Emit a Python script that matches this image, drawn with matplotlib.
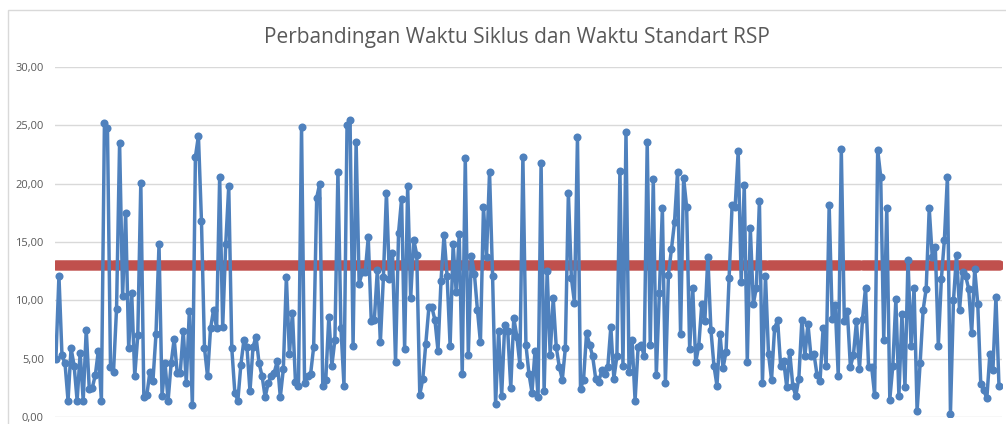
import matplotlib
matplotlib.use("Agg")
import matplotlib.pyplot as plt
from matplotlib.patches import Rectangle
from matplotlib.ticker import FuncFormatter

title = "Perbandingan Waktu Siklus dan Waktu Standart RSP"

waktu_siklus = [
    # segment 1
    5.0, 12.1, 5.3, 4.6, 1.4, 5.9, 4.4, 1.4, 5.5, 1.4, 7.5, 2.4, 2.5, 3.6, 5.7, 1.4,
    25.2, 24.8, 4.3, 3.9, 9.3, 23.5, 10.4, 17.5, 5.9, 10.6, 3.5, 7.0, 20.1, 1.7, 1.9,
    3.9, 3.1, 7.1, 14.8,
    # segment 2
    1.8, 4.6, 1.4, 4.6, 6.7, 3.8, 3.8, 7.4, 2.9, 9.1, 1.0, 22.3, 24.1, 16.8, 5.9, 3.5,
    7.6, 9.2, 7.6, 20.6, 7.7, 14.8, 19.8, 5.9, 2.1, 1.4, 4.5, 6.6, 6.0, 2.2,
    # segment 3
    6.0, 6.9, 4.6, 3.5, 1.7, 2.9, 3.5, 3.8, 4.8, 1.7, 4.1, 12.0, 5.4, 8.9, 3.0, 2.7,
    24.9, 2.9, 3.5, 3.7, 6.0, 18.8, 20.0, 2.7, 3.2, 8.6, 4.4, 6.6, 21.0, 7.6, 2.7,
    25.0, 25.5,
    # segment 4
    6.1, 23.6, 11.4, 12.4, 12.4, 15.4, 8.2, 8.3, 12.6, 6.4, 12.0, 19.2, 11.8, 14.1,
    4.7, 15.8, 18.7, 5.8, 19.8, 10.2, 15.2, 13.9, 1.9, 3.3, 6.3, 9.4, 9.4, 8.3, 5.7,
    11.7, 15.6, 12.1, 6.1,
    # segment 5
    14.8, 10.7, 15.7, 3.7, 22.2, 5.3, 13.8, 12.3, 9.2, 6.4, 18.0, 13.7, 21.0, 12.1,
    1.1, 7.4, 1.8, 7.9, 7.4, 2.5, 8.5, 6.9, 4.5, 22.3, 6.2, 3.7, 2.1, 5.7, 1.7, 21.8,
    2.2, 12.5, 5.3,
    # segment 6
    10.2, 6.0, 4.3, 3.2, 5.9, 19.2, 11.9, 9.8, 24.0, 2.4, 3.2, 7.2, 6.2, 5.2, 3.3,
    3.0, 4.0, 3.7, 4.3, 7.7, 3.3, 5.2, 21.1, 4.4, 24.4, 3.9, 6.6, 1.4, 6.0, 6.2, 5.2,
    23.6, 6.2,
    # segment 7
    20.4, 3.6, 10.6, 17.9, 2.9, 12.2, 14.4, 16.7, 21.0, 7.1, 20.5, 18.0, 5.8, 11.1,
    4.7, 6.1, 9.7, 8.2, 13.7, 7.5, 4.4, 2.7, 7.1, 4.2, 5.6, 11.9, 18.2, 18.0, 22.8,
    11.6, 19.9, 4.7, 16.2,
    # segment 8
    9.7, 11.1, 18.5, 2.9, 12.1, 5.4, 3.2, 7.6, 8.3, 4.4, 4.8, 2.6, 5.6, 2.7, 1.8, 3.3,
    8.3, 5.2, 8.0, 5.2, 5.4, 3.6, 3.1, 7.6, 4.4, 18.2, 8.4, 9.6, 3.5, 23.0, 8.2, 9.1,
    4.3,
    # segment 9
    5.3, 8.2, 4.1, 8.4, 11.1, 4.3, 4.3, 1.9, 22.9, 20.6, 6.6, 17.9, 1.5, 4.4, 10.1,
    1.8, 8.8, 2.6, 13.5, 6.1, 11.1, 0.5, 4.6, 9.2, 11.0, 17.9, 13.7, 14.6, 6.1, 11.8,
    15.2, 20.6, 0.3, 10.0, 13.9, 9.2, 12.4, 12.1, 11.0, 7.2, 12.7, 9.7, 2.8, 2.3, 1.6,
    5.4, 4.0, 10.3, 2.7,
]
waktu_standart_value = 13.0
waktu_standart = [waktu_standart_value] * len(waktu_siklus)
y_ticks = [0, 5, 10, 15, 20, 25, 30]

W, H = 1006, 424
fig = plt.figure(figsize=(W / 100, H / 100), dpi=100)
plt.rcParams['font.family'] = ['Open Sans', 'DejaVu Sans']

# chart border (light gray), left and top visible
fig.patches.append(Rectangle((8 / W, -0.05), 1.2, (H - 10) / H + 0.05,
                             transform=fig.transFigure, fill=False,
                             edgecolor='#d9d9d9', linewidth=1.0))

ax = fig.add_axes([55 / W, 7 / H, (1002 - 55) / W, (417 - 67) / H])
x = list(range(len(waktu_siklus)))

ax.plot(x, waktu_standart, color='#c0504d', linewidth=6, marker='o',
        markersize=6.5, solid_capstyle='round', zorder=3)
ax.plot(x, waktu_siklus, color='#4f81bd', linewidth=2.5, marker='o',
        markersize=5.8, markeredgewidth=0, zorder=4)

ax.set_ylim(0, 30)
ax.set_xlim(-0.3, len(waktu_siklus) - 1 + 1.0)
ax.set_yticks(y_ticks)
ax.yaxis.set_major_formatter(FuncFormatter(lambda v, p: f"{v:.2f}".replace('.', ',')))
ax.set_xticks([])
ax.grid(axis='y', color='#d9d9d9', linewidth=1.0)
ax.set_axisbelow(True)
for s in ax.spines.values():
    s.set_visible(False)
ax.tick_params(axis='y', length=0, pad=8, labelsize=8, labelcolor='#595959')
ax.patch.set_alpha(0)

fig.text(517 / W, 1 - 37 / H, title, ha='center', va='center',
         fontsize=15, color='#595959')

fig.savefig('out.png', dpi=100)
